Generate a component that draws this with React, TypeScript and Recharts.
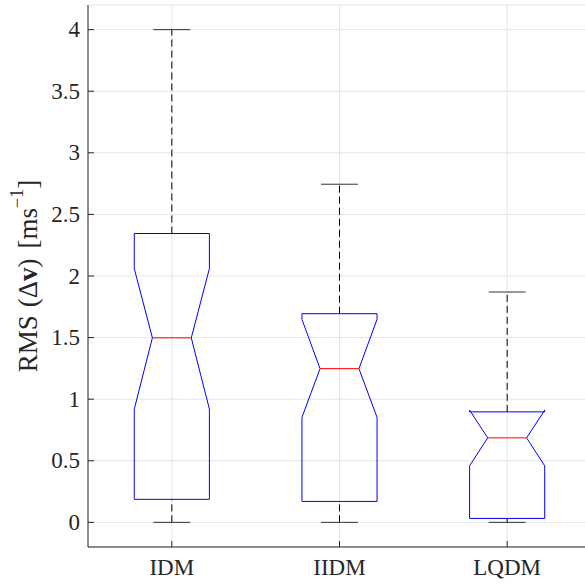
import React from 'react';
import { LineChart, Line, XAxis, YAxis, CartesianGrid } from 'recharts';

const categories = ['IDM', 'IIDM', 'LQDM'];
const upperWhisker = [4.0, 2.745, 1.87];
const q3 = [2.345, 1.694, 0.897];
const notchHigh = [2.06, 1.648, 0.911];
const median = [1.498, 1.248, 0.686];
const notchLow = [0.919, 0.852, 0.459];
const q1 = [0.187, 0.17, 0.032];
const lowerWhisker = [0, 0, 0];
const yTicks = [0, 0.5, 1, 1.5, 2, 2.5, 3, 3.5, 4];

const BOX_HALF = 0.224;
const NOTCH_HALF = 0.116;
const CAP_HALF = 0.11;
const FONT = 'Liberation Serif, DejaVu Serif, serif';
const AXIS = '#262626';

type Pt = { x: number; y: number };
type Seg = { key: string; pts: Pt[]; color: string; dash?: string };

// build every segment of the notched boxplots from the arrays
const segments: Seg[] = [];
categories.forEach((_, i) => {
    const x = i + 1;
    const w = BOX_HALF, n = NOTCH_HALF, c = CAP_HALF;
    segments.push({ key: `wu${i}`, pts: [{ x, y: q3[i] }, { x, y: upperWhisker[i] }], color: '#000', dash: '7 4' });
    segments.push({ key: `wl${i}`, pts: [{ x, y: lowerWhisker[i] }, { x, y: q1[i] }], color: '#000', dash: '7 4' });
    segments.push({ key: `cu${i}`, pts: [{ x: x - c, y: upperWhisker[i] }, { x: x + c, y: upperWhisker[i] }], color: '#333' });
    segments.push({ key: `cl${i}`, pts: [{ x: x - c, y: lowerWhisker[i] }, { x: x + c, y: lowerWhisker[i] }], color: '#333' });
    segments.push({
        key: `box${i}`,
        color: '#0000ff',
        pts: [
            { x: x - w, y: q1[i] },
            { x: x - w, y: notchLow[i] },
            { x: x - n, y: median[i] },
            { x: x - w, y: notchHigh[i] },
            { x: x - w, y: q3[i] },
            { x: x + w, y: q3[i] },
            { x: x + w, y: notchHigh[i] },
            { x: x + n, y: median[i] },
            { x: x + w, y: notchLow[i] },
            { x: x + w, y: q1[i] },
            { x: x - w, y: q1[i] },
        ],
    });
    segments.push({ key: `med${i}`, pts: [{ x: x - n, y: median[i] }, { x: x + n, y: median[i] }], color: '#ff0000' });
});

const textStyle = { fontFamily: FONT, fill: AXIS };

const YTick = (props: any) => {
    const { x, y, payload } = props;
    return (
        <g>
            <line x1={x} x2={x + 6} y1={y} y2={y} stroke={AXIS} />
            <text x={x - 8} y={y} textAnchor="end" dominantBaseline="central" style={{ ...textStyle, fontSize: 23 }}>
                {String(payload.value)}
            </text>
        </g>
    );
};

const XTick = (props: any) => {
    const { x, y, payload } = props;
    return (
        <g>
            <line x1={x} x2={x} y1={y} y2={y - 6} stroke={AXIS} />
            <text x={x} y={y + 28} textAnchor="middle" style={{ ...textStyle, fontSize: 23 }}>
                {categories[payload.value - 1]}
            </text>
        </g>
    );
};

const TopTick = (props: any) => {
    const { x, y } = props;
    return <line x1={x} x2={x} y1={y} y2={y + 6} stroke={AXIS} />;
};

const YLabel = (props: any) => {
    const vb = props.viewBox || { y: 5, height: 542 };
    const cy = vb.y + vb.height / 2;
    const cx = 28;
    return (
        <text
            x={cx}
            y={cy}
            transform={`rotate(-90, ${cx}, ${cy})`}
            textAnchor="middle"
            dominantBaseline="central"
            style={{ ...textStyle, fontSize: 27 }}
        >
            <tspan>RMS</tspan>
            <tspan dx={8}>(Δ</tspan>
            <tspan fontWeight="bold">v</tspan>
            <tspan>)</tspan>
            <tspan dx={10}>[ms</tspan>
            <tspan fontSize={18} dy={-11}>−1</tspan>
            <tspan dy={11}>]</tspan>
        </text>
    );
};

export default function App() {
    return (
        <div style={{ position: 'absolute', left: 0, top: 0, width: 585, height: 586, overflow: 'hidden', background: '#fff' }}>
            <LineChart width={600} height={586} margin={{ top: 5, right: 9, left: 0, bottom: 0 }}>
                <CartesianGrid stroke="#e5e5e5" />
                <XAxis
                    type="number"
                    dataKey="x"
                    domain={[0.5, 3.5]}
                    allowDataOverflow
                    ticks={[1, 2, 3]}
                    height={39}
                    tickSize={0}
                    tickMargin={0}
                    tick={<XTick />}
                    axisLine={{ stroke: AXIS }}
                    tickLine={false}
                />
                <XAxis
                    xAxisId="top"
                    orientation="top"
                    type="number"
                    dataKey="x"
                    domain={[0.5, 3.5]}
                    allowDataOverflow
                    ticks={[1, 2, 3]}
                    height={0}
                    tickSize={0}
                    tickMargin={0}
                    tick={<TopTick />}
                    axisLine={{ stroke: AXIS }}
                    tickLine={false}
                />
                <YAxis
                    type="number"
                    domain={[-0.2, 4.2]}
                    allowDataOverflow
                    ticks={yTicks}
                    width={88}
                    tickSize={0}
                    tickMargin={0}
                    tick={<YTick />}
                    axisLine={{ stroke: AXIS }}
                    tickLine={false}
                    label={<YLabel />}
                />
                {segments.map(s => (
                    <Line
                        key={s.key}
                        data={s.pts}
                        dataKey="y"
                        type="linear"
                        stroke={s.color}
                        strokeWidth={1}
                        strokeDasharray={s.dash}
                        dot={false}
                        activeDot={false}
                        isAnimationActive={false}
                    />
                ))}
            </LineChart>
        </div>
    );
}
